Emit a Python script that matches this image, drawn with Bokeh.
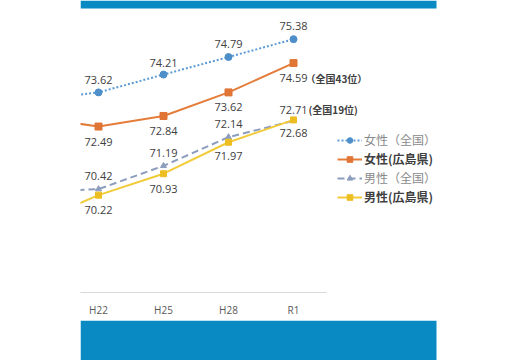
from bokeh.plotting import figure
from bokeh.layouts import column
from bokeh.models import (ColumnDataSource, Range1d, FixedTicker, LabelSet, Label,
                          Legend, LegendItem, BoxAnnotation)
from bokeh.embed import file_html
from bokeh.resources import INLINE
from bokeh.core.properties import value

# ---- data ----
categories = ["H19", "H22", "H25", "H28", "R1"]   # H19 lies left of the visible crop
female_national = [73.36, 73.62, 74.21, 74.79, 75.38]
female_hiroshima = [72.80, 72.49, 72.84, 73.62, 74.59]
male_national = [70.33, 70.42, 71.19, 72.14, 72.68]
male_hiroshima = [69.30, 70.22, 70.93, 71.97, 72.71]
series_names = ["女性（全国）", "女性(広島県)", "男性（全国）", "男性(広島県)"]
rank_female = "（全国43位）"
rank_male = "(全国19位)"

xs = list(range(len(categories)))

W, H = 520, 320
FRAME_BOTTOM = 292
BLUE = "#098AC2"
p = figure(width=W, height=H, output_backend="svg", toolbar_location=None,
           x_range=Range1d(0.723, 0.723 + 440 / 65), y_range=Range1d(67, 76.66),
           min_border_left=80, min_border_right=0, min_border_top=0,
           min_border_bottom=H - FRAME_BOTTOM, y_axis_location=None)
p.outline_line_color = None
p.background_fill_color = "white"
p.border_fill_color = "white"
p.xgrid.visible = False
p.ygrid.visible = False

p.xaxis.ticker = FixedTicker(ticks=xs[1:])
p.xaxis.bounds = (0.723, 4.5)
p.xaxis.major_label_overrides = {i: categories[i] for i in xs}
p.xaxis.major_tick_line_color = None
p.xaxis.minor_tick_line_color = None
p.xaxis.axis_line_color = "#D9D9D9"
p.xaxis.axis_line_width = 1
p.xaxis.major_label_standoff = 4
p.xaxis.major_label_text_font = "Open Sans"
p.xaxis.major_label_text_font_size = "10px"
p.xaxis.major_label_text_color = "#595959"

styles = [
    dict(color="#5B9BD5", dash="2 2", marker="circle", size=7, mcolor="#4E8FC9"),
    dict(color="#E47C3A", dash="solid", marker="square", size=7, mcolor="#E07535"),
    dict(color="#8C9DBD", dash="7 4", marker="triangle", size=6, mcolor="#8C9DBD"),
    dict(color="#F2CB3A", dash="solid", marker="square", size=6, mcolor="#EDBE22"),
]
all_series = [female_national, female_hiroshima, male_national, male_hiroshima]
# label placement (screen px, + is up) for H22..R1
offsets = [
    [12, 12, 13, 13],
    [-15, -15, -15, -15],
    [13, 13, 13, -12],
    [-15, -15, -14, 10],
]

renderers = []
for vals, st, offs in zip(all_series, styles, offsets):
    src = ColumnDataSource(dict(x=xs, y=vals))
    ln = p.line("x", "y", source=src, line_color=st["color"], line_width=2,
                line_dash=st["dash"])
    mk = p.scatter("x", "y", source=src, marker=st["marker"], size=st["size"],
                   fill_color=st["mcolor"], line_color=st["mcolor"])
    renderers.append([ln, mk])
    lsrc = ColumnDataSource(dict(x=xs[1:], y=vals[1:],
                                 t=["%.2f" % v for v in vals[1:]], off=offs))
    p.add_layout(LabelSet(x="x", y="y", text="t", y_offset="off", source=lsrc,
                          text_align="center", text_baseline="middle",
                          text_font=value("Open Sans"), text_font_size="11px",
                          text_color="#404040"))

# rank annotations at R1
p.add_layout(Label(x=xs[-1], y=female_hiroshima[-1], text=rank_female,
                   x_offset=12, y_offset=-15, text_align="left",
                   text_baseline="middle", text_font="Noto Sans CJK JP",
                   text_font_size="10px", text_font_style="bold",
                   text_color="#404040"))
p.add_layout(Label(x=xs[-1], y=male_hiroshima[-1], text=rank_male,
                   x_offset=15, y_offset=10, text_align="left",
                   text_baseline="middle", text_font="Noto Sans CJK JP",
                   text_font_size="10px", text_font_style="bold",
                   text_color="#404040"))

# legends, one per row
rows_y = [141, 160, 179, 198]
for i, (name, rs) in enumerate(zip(series_names, renderers)):
    bold = i % 2 == 1
    lg = Legend(items=[LegendItem(label=name, renderers=rs)],
                location=(257, FRAME_BOTTOM - (rows_y[i] + 7)),
                padding=0, margin=0, spacing=0, glyph_width=25, glyph_height=14,
                label_standoff=2, label_height=14,
                label_text_font="Noto Sans CJK JP", label_text_font_size="12px",
                label_text_font_style="bold" if bold else "normal",
                label_text_color="#404040" if bold else "#8A8A8A",
                background_fill_alpha=0, border_line_color=None)
    p.add_layout(lg)

# top blue band
p.add_layout(BoxAnnotation(right=436, top=0, bottom=8,
                           right_units="canvas", top_units="canvas",
                           bottom_units="canvas",
                           fill_color=BLUE, fill_alpha=1, line_color=None,
                           level="overlay"))

# bottom blue band (same borders as the chart so the column keeps them aligned)
bar = figure(width=W, height=40, output_backend="svg", toolbar_location=None,
             min_border_left=80, min_border_right=0, min_border_top=0,
             min_border_bottom=0, x_axis_location=None, y_axis_location=None)
bar.background_fill_color = "white"
bar.border_fill_color = "white"
bar.outline_line_color = None
bar.xgrid.visible = False
bar.ygrid.visible = False
bar.add_layout(BoxAnnotation(right=436, right_units="canvas",
                             fill_color=BLUE, fill_alpha=1, line_color=None))

layout = column(p, bar, spacing=0)
open("out.html", "w").write(file_html(layout, INLINE))
